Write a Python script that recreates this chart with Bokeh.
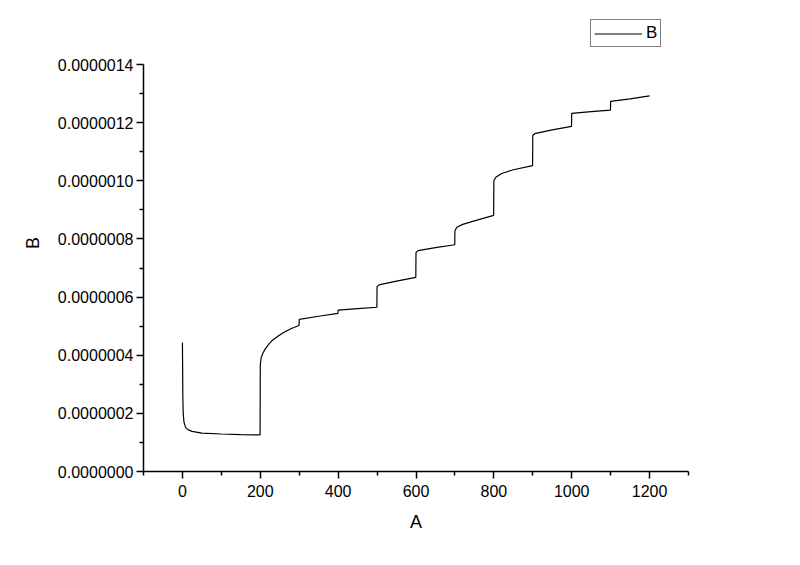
from bokeh.plotting import figure
from bokeh.models import (Range1d, FixedTicker, PrintfTickFormatter, Legend, LegendItem,
                          ColumnDataSource)
from bokeh.embed import file_html
from bokeh.resources import INLINE

# ---- data ----
a_values = [0, 0.5, 1, 2, 4, 8, 15, 25, 50, 100, 150, 199.5,
            200, 202, 206, 212, 220, 230, 245, 260, 280, 299.5,
            300, 350, 399.5, 400, 450, 499.5,
            500, 505, 550, 599.5,
            600, 605, 650, 699.5,
            700, 705, 720, 750, 799.5,
            800, 805, 820, 850, 899.5,
            900, 905, 950, 999.5,
            1000, 1050, 1099.5,
            1100, 1150, 1200]
b_values_e7 = [4.44, 3.6, 2.6, 2.0, 1.7, 1.52, 1.43, 1.38, 1.32, 1.29, 1.27, 1.26,
               3.65, 3.9, 4.05, 4.2, 4.35, 4.5, 4.65, 4.78, 4.92, 5.02,
               5.23, 5.34, 5.44, 5.55, 5.6, 5.65,
               6.36, 6.42, 6.55, 6.68,
               7.53, 7.6, 7.7, 7.8,
               8.28, 8.4, 8.5, 8.62, 8.81,
               10.0, 10.12, 10.25, 10.38, 10.52,
               11.56, 11.62, 11.75, 11.87,
               12.32, 12.38, 12.43,
               12.73, 12.82, 12.92]
b_values = [v * 1e-7 for v in b_values_e7]

x_major_ticks = [0, 200, 400, 600, 800, 1000, 1200]
x_minor_ticks = [-100, 100, 300, 500, 700, 900, 1100, 1300]
y_major_ticks = [0, 2e-7, 4e-7, 6e-7, 8e-7, 1.0e-6, 1.2e-6, 1.4e-6]
y_minor_ticks = [1e-7, 3e-7, 5e-7, 7e-7, 9e-7, 1.1e-6, 1.3e-6]
y_axis_max = 1.4e-6

FONT = "Liberation Sans"

# frame extends above the axis top so the legend (above the axis) is not clipped
AXIS_PX = 407          # pixel length of the drawn y axis
FRAME_PX = 457         # pixel height of the frame
y_range_end = y_axis_max * FRAME_PX / AXIS_PX

p = figure(width=784, height=549, output_backend="svg", toolbar_location=None,
           x_range=Range1d(-100, 1300), y_range=Range1d(0, y_range_end),
           min_border_left=143, min_border_right=96, min_border_top=14,
           min_border_bottom=78)
p.outline_line_color = None
p.xgrid.visible = False
p.ygrid.visible = False
p.background_fill_color = "white"
p.border_fill_color = "white"

src = ColumnDataSource(dict(a=a_values, b=b_values))
r = p.line("a", "b", source=src, line_color="black", line_width=1.2)

for ax in (p.xaxis[0], p.yaxis[0]):
    ax.axis_line_width = 1.5
    ax.axis_line_color = "black"
    ax.major_tick_line_color = "black"
    ax.minor_tick_line_color = "black"
    ax.major_tick_line_width = 1.5
    ax.minor_tick_line_width = 1.5
    ax.major_tick_out = 7
    ax.major_tick_in = 0
    ax.minor_tick_out = 4
    ax.minor_tick_in = 0
    ax.major_label_text_font = FONT
    ax.major_label_text_font_size = "16px"
    ax.major_label_text_color = "black"
    ax.axis_label_text_font = FONT
    ax.axis_label_text_font_size = "18px"
    ax.axis_label_text_font_style = "normal"
    ax.axis_label_text_color = "black"

p.xaxis[0].ticker = FixedTicker(ticks=x_major_ticks, minor_ticks=x_minor_ticks)
p.yaxis[0].ticker = FixedTicker(ticks=y_major_ticks, minor_ticks=y_minor_ticks)
p.yaxis[0].bounds = (0, y_axis_max)
p.yaxis[0].formatter = PrintfTickFormatter(format="%.7f")
p.xaxis[0].axis_label = "A"
p.yaxis[0].axis_label = "B"
p.xaxis[0].major_label_standoff = 6
p.xaxis[0].axis_label_standoff = 12
p.yaxis[0].major_label_standoff = 3
p.yaxis[0].axis_label_standoff = 12

legend = Legend(items=[LegendItem(label="B", renderers=[r])],
                location=(447, 424), orientation="vertical",
                border_line_color="black", border_line_width=1,
                background_fill_alpha=1.0, padding=3, margin=0, spacing=0,
                glyph_width=48, glyph_height=15, label_standoff=4,
                label_width=11, label_height=15,
                label_text_font=FONT, label_text_font_size="17px",
                label_text_color="black")
p.add_layout(legend, "center")

open("out.html", "w").write(file_html(p, INLINE))
